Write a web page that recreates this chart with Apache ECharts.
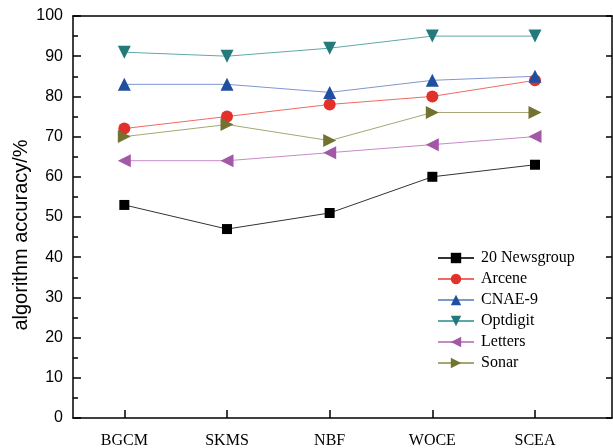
<!DOCTYPE html>
<html><head><meta charset="utf-8">
<script src="https://cdn.jsdelivr.net/npm/echarts@6/dist/echarts.min.js"></script>
<style>html,body{margin:0;padding:0;background:#fff}#c{width:613px;height:448px}</style>
</head><body><div id="c"></div>
<script>
const categories = ['BGCM', 'SKMS', 'NBF', 'WOCE', 'SCEA'];
const newsgroup = [53, 47, 51, 60, 63];
const arcene = [72, 75, 78, 80, 84];
const cnae9 = [83, 83, 81, 84, 85];
const optdigit = [91, 90, 92, 95, 95];
const letters = [64, 64, 66, 68, 70];
const sonar = [70, 73, 69, 76, 76];
const yTicks = [0, 10, 20, 30, 40, 50, 60, 70, 80, 90, 100];

const chart = echarts.init(document.getElementById('c'));
const pos = categories.map((c, i) => i + 1);
function mk(name, data, symbol, mcolor, lcolor, size, rot) {
  return {
    name, type: 'line', data: data.map((v, i) => [i + 1, v]),
    symbol, symbolSize: size, symbolRotate: rot || 0,
    itemStyle: { color: mcolor },
    lineStyle: { color: lcolor, width: 1 },
    z: 3
  };
}
const serif = '"Liberation Serif","Times New Roman",serif';
const sans = '"Liberation Sans",Arial,sans-serif';
chart.setOption({
  animation: false,
  grid: { left: 73, right: 1, top: 16, bottom: 30, outerBoundsMode: 'none', containLabel: false },
  legend: {
    orient: 'vertical', left: 432, top: 245, itemWidth: 36, itemHeight: 13, itemGap: 5,
    textStyle: { fontFamily: serif, fontSize: 16, color: '#000', padding: [0, 0, 0, 2] },
    data: ['20 Newsgroup', 'Arcene', 'CNAE-9', 'Optdigit', 'Letters', 'Sonar']
  },
  xAxis: [{
    type: 'value', min: 0.5, max: 5.75,
    axisLine: { show: true, lineStyle: { color: '#000', width: 1.5 } },
    axisTick: { show: true, inside: true, length: 8, customValues: pos, lineStyle: { color: '#000', width: 1.5 } },
    axisLabel: { customValues: pos, formatter: v => categories[Math.round(v) - 1] || '', fontFamily: serif, fontSize: 16, color: '#000', margin: 15 },
    splitLine: { show: false }
  }, {
    type: 'value', position: 'top', min: 0.5, max: 5.75,
    axisLine: { show: true, onZero: false, lineStyle: { color: '#000', width: 1.5 } },
    axisTick: { show: false }, axisLabel: { show: false }, splitLine: { show: false }
  }],
  yAxis: [{
    type: 'value', min: 0, max: 100, interval: 10,
    name: 'algorithm accuracy/%', nameLocation: 'middle', nameGap: 42, nameRotate: 90, nameMoveOverlap: false,
    nameTextStyle: { fontFamily: sans, fontSize: 20, color: '#000', padding: [0, 36, 0, 0] },
    axisLine: { show: true, lineStyle: { color: '#000', width: 1.5 } },
    axisTick: { show: true, inside: true, length: 8, lineStyle: { color: '#000', width: 1.5 } },
    minorTick: { show: true, splitNumber: 2, length: 5, lineStyle: { color: '#000', width: 1.5 } },
    axisLabel: { fontFamily: sans, fontSize: 16, color: '#000', margin: 10, formatter: v => yTicks.includes(v) ? String(v) : '' },
    splitLine: { show: false }
  }, {
    type: 'value', position: 'right', min: 0, max: 100, interval: 10,
    axisLine: { show: true, onZero: false, lineStyle: { color: '#000', width: 1.5 } },
    axisTick: { show: true, inside: true, length: 6, lineStyle: { color: '#000', width: 1.5 } },
    axisLabel: { show: false }, splitLine: { show: false }
  }],
  series: [
    mk('20 Newsgroup', newsgroup, 'rect', '#000000', '#333333', 10),
    mk('Arcene', arcene, 'circle', '#e2302a', '#f06a63', 12),
    mk('CNAE-9', cnae9, 'triangle', '#1f4fa0', '#7f97cf', 13),
    mk('Optdigit', optdigit, 'triangle', '#237a7a', '#5fa8a8', 13, 180),
    mk('Letters', letters, 'triangle', '#a258a6', '#c68ac8', 13, 90),
    mk('Sonar', sonar, 'triangle', '#737331', '#a6a673', 13, -90)
  ]
});
</script></body></html>
